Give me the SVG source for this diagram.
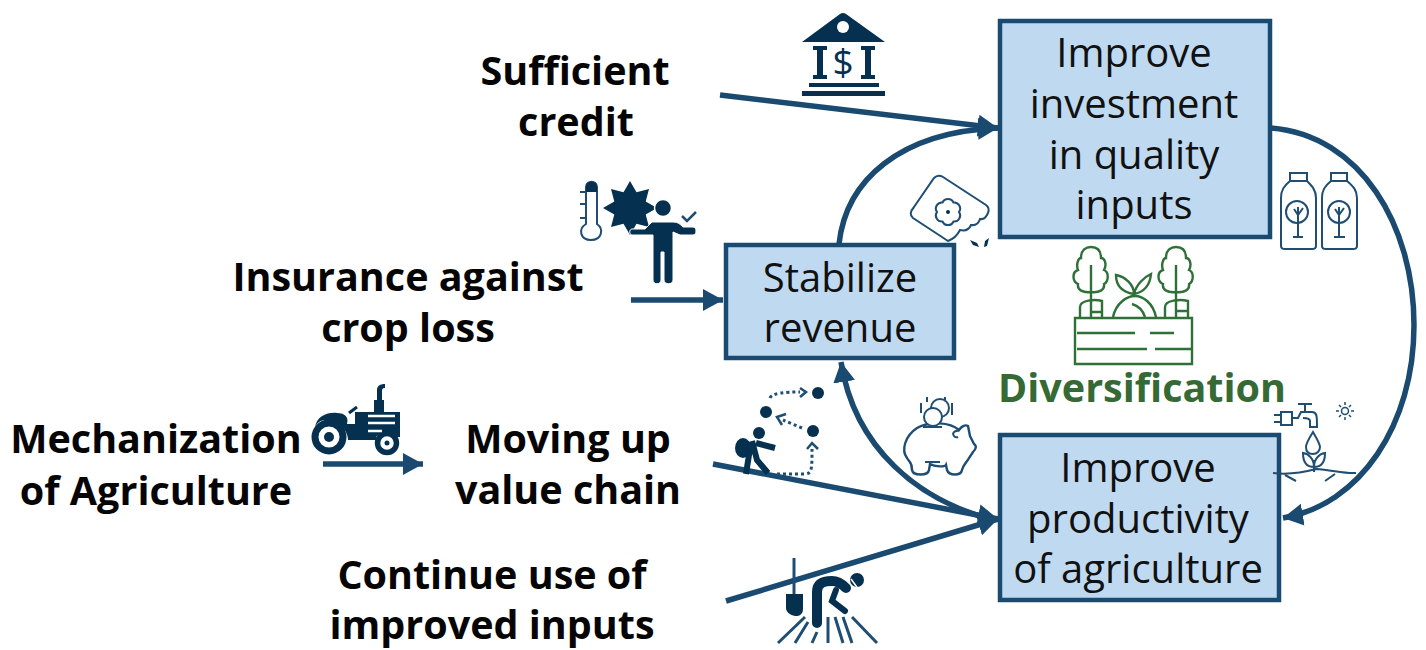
<svg xmlns="http://www.w3.org/2000/svg" width="1426" height="650" viewBox="0 0 1426 650">
<style>
.b{font-family:"Open Sans","Noto Sans",sans-serif;font-weight:700;font-size:39.500px;fill:#050505;text-anchor:middle}
.n{font-family:"Open Sans","Noto Sans",sans-serif;font-size:40px;fill:#111;text-anchor:middle}
.box{fill:#bfdaf0;stroke:#1a4a70;stroke-width:4.500}
.c{fill:none;stroke:#1a4a70;stroke-width:5.500}
.i{fill:#05304f}
.l{fill:none;stroke:#1f4e72;stroke-width:2}
.g{fill:none;stroke:#2f7038;stroke-width:2.400}
.d{fill:none;stroke:#1f4e72;stroke-width:3;stroke-dasharray:3 3}
</style>
<defs>
<marker id="a" markerUnits="userSpaceOnUse" markerWidth="22" markerHeight="24" refX="20" refY="12" orient="auto"><path d="M0 1L20 12L0 23z" fill="#1a4a70"/></marker>
</defs>
<rect width="1426" height="650" fill="#fff"/>
<g id="connectors">
<path class="c" d="M720 95L998 128" marker-end="url(#a)"/>
<path class="c" d="M839 244C846 180 900 132 998 128" marker-end="url(#a)"/>
<path class="c" d="M1271 128C1360 135 1414 225 1414 325C1414 425 1360 505 1283 518" marker-end="url(#a)"/>
<path class="c" d="M631 300H723" marker-end="url(#a)"/>
<path class="c" d="M323 464H423" marker-end="url(#a)"/>
<path class="c" d="M713 464L998 519" marker-end="url(#a)"/>
<path class="c" d="M726 601L998 519" marker-end="url(#a)"/>
<path class="c" d="M990 519C920 500 855 450 841 362" marker-end="url(#a)"/>
</g>
<g id="improve-investment">
<rect class="box" x="1000" y="21" width="270" height="216"/>
<text class="n" x="1134" y="67">Improve</text>
<text class="n" x="1134" y="118">investment</text>
<text class="n" x="1134" y="169">in quality</text>
<text class="n" x="1134" y="219">inputs</text>
</g>
<g id="stabilize-revenue">
<rect class="box" x="726" y="245" width="228" height="113"/>
<text class="n" x="840" y="292">Stabilize</text>
<text class="n" x="840" y="342">revenue</text>
</g>
<g id="improve-productivity">
<rect class="box" x="1000" y="435" width="279" height="165"/>
<text class="n" x="1138" y="482">Improve</text>
<text class="n" x="1138" y="533">productivity</text>
<text class="n" x="1138" y="583">of agriculture</text>
</g>
<g id="sufficient-credit">
<text class="b" x="575" y="85">Sufficient</text>
<text class="b" x="576" y="136">credit</text>
</g>
<g id="insurance">
<text class="b" x="408" y="291">Insurance against</text>
<text class="b" x="408" y="342">crop loss</text>
</g>
<g id="mechanization">
<text class="b" x="156" y="453">Mechanization</text>
<text class="b" x="156" y="505">of Agriculture</text>
</g>
<g id="moving-up">
<text class="b" x="568" y="453">Moving up</text>
<text class="b" x="568" y="504">value chain</text>
</g>
<g id="continue-use">
<text class="b" x="492" y="589">Continue use of</text>
<text class="b" x="492" y="639">improved inputs</text>
</g>
<g id="diversification">
<text x="1142" y="402" text-anchor="middle" style="font-family:'Open Sans','Noto Sans',sans-serif;font-weight:700;font-size:39.500px;fill:#356a35">Diversification</text>
<path class="g" d="M1075 318H1192V364H1075ZM1077 333H1135M1150 333H1174M1077 349H1147M1155 349H1192"/>
<path class="g" d="M1091 265V318M1091 292C1083 293 1077 290 1078 284C1072 281 1072 272 1078 270C1076 265 1078 258 1081 258C1081 250 1086 247 1091 247C1097 247 1101 250 1101 258C1105 258 1107 265 1104 270C1109 272 1109 281 1104 284C1105 290 1099 293 1091 292Z"/>
<path class="g" d="M1176 265V318M1176 292C1168 293 1162 290 1163 284C1157 281 1157 272 1163 270C1161 265 1163 258 1166 258C1166 250 1171 247 1176 247C1182 247 1186 250 1186 258C1190 258 1192 265 1189 270C1194 272 1194 281 1189 284C1190 290 1184 293 1176 292Z"/>
<path class="g" d="M1080 317V307C1080 300 1095 299 1102 301V312H1092M1102 317V312"/>
<path class="g" d="M1165 317V307C1165 300 1180 299 1188 301V317M1176 311H1188"/>
<path class="g" d="M1113 317C1116 303 1127 296 1135 296C1143 296 1153 303 1156 317M1132 304C1139 306 1143 311 1145 317"/>
<path class="g" d="M1134 294C1134 285 1126 277 1116 275C1116 285 1122 292 1134 294C1136 285 1144 277 1151 274C1150 285 1144 292 1134 294Z"/>
</g>
<g id="icon-bank">
<path class="i" d="M802 42L840 14Q843 12 846 14L885 42H802Z"/>
<circle cx="843" cy="27" r="6" fill="#fff"/>
<path class="i" d="M813 46H827V50H823V75H827V79H813V75H817V50H813ZM861 46H875V50H871V75H875V79H861V75H865V50H861Z"/>
<path class="i" d="M809 83H879V87H809ZM802 91H885V96H802Z"/>
<text x="843" y="75" text-anchor="middle" style="font-family:'Open Sans',sans-serif;font-size:37px;fill:#05304f">$</text>
</g>
<g id="icon-insurance">
<path class="l" d="M586 224V187C586 180 597 180 597 187V224C604 229 602 240 591 240C580 240 578 229 586 224ZM580 192H586M580 204H586M580 218H586"/>
<path class="i" d="M586 192V187C586 180 597 180 597 187V192Z"/>
<path class="i" d="M657 208L645.700 201.500L649 189L636.500 192.300L630 181L623.500 192.300L611 189L614.300 201.500L603 208L614.300 214.500L611 227L623.500 223.700L630 235L636.500 223.700L649 227L645.700 214.500Z"/>
<circle class="i" cx="663" cy="208" r="8.500" stroke="#fff" stroke-width="1.500"/>
<path class="i" d="M652 222H673C678 222 680 224 683 227H693C697 227 697 235 693 235H680L673 232V280C673 285 664 285 664 280V252H661V280C661 285 653 285 653 280V235H632C629 235 629 229 632 229H645Z" stroke="#fff" stroke-width="1"/>
<path class="l" d="M682 216L687 221L696 212" style="stroke-width:2.500"/>
</g>
<g id="icon-seed">
<path class="l" d="M914 207L934 178Q938 174 943 177L986 205Q990 208 988 213Q985 220 980 219Q978 226 971 225Q968 232 960 230Q956 238 948 241L913 218Q908 214 914 207Z"/>
<path class="l" d="M942.500 202.500A6 6 0 0 1 953.500 202.500A6 6 0 0 1 959 212A6 6 0 0 1 953.500 221.500A6 6 0 0 1 942.500 221.500A6 6 0 0 1 937 212A6 6 0 0 1 942.500 202.500Z"/>
<circle class="i" cx="948" cy="212" r="2"/>
<path class="i" d="M970 240L977 243L979 247L973 245ZM989 238L987 246L984 247L985 241Z"/>
</g>
<g id="icon-bottles">
<path class="l" d="M1290 173H1307V181H1290ZM1290 181C1284 186 1281 190 1281 198V246C1281 248 1283 249 1285 249H1312C1315 249 1316 248 1316 246V198C1316 190 1312 186 1307 181"/>
<path class="l" d="M1331 173H1347V181H1331ZM1331 181C1325 186 1322 190 1322 198V246C1322 248 1324 249 1326 249H1353C1356 249 1357 248 1357 246V198C1357 190 1353 186 1347 181"/>
<circle class="l" cx="1297" cy="212" r="11"/><path class="l" d="M1298 207V237M1293 237H1303M1294 209L1298 215L1303 208"/>
<circle class="l" cx="1339" cy="212" r="11"/><path class="l" d="M1339 207V237M1334 237H1345M1335 209L1339 215L1344 208"/>
</g>
<g id="icon-water">
<path class="l" d="M1274 415H1281M1274 422H1281M1281 412H1292V425H1281ZM1292 418H1298L1301 412H1312C1317 412 1317 416 1317 427H1310V421C1310 418 1306 418 1303 418M1305 405V412M1298 404H1312"/>
<path class="l" d="M1313 432C1308 440 1306 444 1306 447C1306 452 1309 454 1313 454C1317 454 1320 451 1320 447C1320 444 1317 439 1313 432Z"/>
<path class="l" d="M1314 460V472M1314 467C1306 467 1303 462 1303 453C1309 454 1314 459 1314 467C1322 467 1325 462 1325 453C1319 454 1314 459 1314 467"/>
<path class="l" d="M1273 473C1290 475 1305 472 1316 469C1332 470 1345 474 1356 473M1285 475L1296 481M1335 474L1325 481"/>
<circle class="l" cx="1345" cy="411" r="3.500" style="stroke-width:1.500"/><path class="l" d="M1336 411H1339M1351 411H1354M1345 402V405M1345 417V420M1339 405L1341 407M1351 405L1349 407M1339 417L1341 415M1351 417L1349 415" style="stroke-width:1.500"/>
</g>
<g id="icon-tractor">
<path class="i" d="M374 414V400H377V390C377 386 380 384 385 384V388C382 388 382 390 382 392V400H384V414Z"/>
<path class="i" d="M315 428C316 416 328 412 337 413C345 413 349 417 347 424H355V412H400V437H397C394 432 380 432 376 437V440H348C348 428 335 420 325 420C320 420 316 424 315 428Z"/>
<path d="M349 413L357 407" fill="none" stroke="#05304f" stroke-width="3"/>
<circle cx="329" cy="437" r="14" fill="#fff" stroke="#05304f" stroke-width="7"/><circle class="i" cx="329" cy="437" r="5"/>
<circle cx="387" cy="443" r="9.500" fill="#fff" stroke="#05304f" stroke-width="5.500"/><circle class="i" cx="387" cy="443" r="2.500"/>
<path d="M368 416H395M368 423H395M368 431H382" stroke="#fff" stroke-width="2.500"/>
</g>
<g id="icon-value-chain">
<circle class="i" cx="818" cy="393" r="6"/><circle class="i" cx="766" cy="412" r="6"/><circle class="i" cx="813" cy="431" r="6"/>
<circle class="i" cx="759" cy="433" r="6"/>
<ellipse class="i" cx="743" cy="448" rx="8" ry="10"/>
<path d="M751 442L746 474M752 441L757 460L768 473M756 443L775 448" fill="none" stroke="#05304f" stroke-width="6"/>
<path class="d" d="M770 398C772 393 785 392 800 392"/><path class="l" d="M800 388L806 392L800 397" style="stroke-width:2.500"/>
<path class="d" d="M802 428L783 420"/><path class="l" d="M786 414L777 417L782 425" style="stroke-width:2.500"/>
<path class="d" d="M777 474H804C812 474 812 470 812 449"/><path class="l" d="M807 449L812 443L818 449" style="stroke-width:2.500"/>
</g>
<g id="icon-piggy">
<path class="l" d="M917 428C905 436 901 450 907 458C910 463 912 462 912 470C913 476 928 476 929 470L930 464C935 467 945 467 946 465L947 470C949 476 961 476 962 470C963 465 967 462 969 458L973 452C976 449 977 446 974 444L970 436L968 426C965 424 961 427 959 430C950 422 930 421 917 428Z" style="stroke-width:2.400"/>
<circle cx="940" cy="408" r="9" fill="#fff" stroke="#1f4e72" stroke-width="2"/><circle cx="933" cy="417" r="9" fill="#fff" stroke="#1f4e72" stroke-width="2"/>
<path class="l" d="M921 403V413M952 403V415M927 397V402M945 397V400M925 462H940M923 427H942M953 433C955 431 957 430 959 431M953 433C953 436 955 438 958 437"/>
</g>
<g id="icon-farmer">
<path class="l" d="M794 558V597" style="stroke-width:3"/>
<path class="i" d="M786 594H803V609C803 616 797 616 795 616C790 615 786 612 786 608Z"/>
<path d="M817 623V592C817 582 825 581 832 581C838 581 842 584 846 588" fill="none" stroke="#05304f" stroke-width="10" stroke-linecap="round"/>
<path d="M836 590L832 601L845 611" fill="none" stroke="#05304f" stroke-width="6" stroke-linecap="round"/>
<circle class="i" cx="857" cy="580" r="7"/><path d="M851 579L859 590" stroke="#fff" stroke-width="1.500"/>
<path d="M778 643L805 617M795 643L808 622M812 643L817 632M828 643V617M843 643L835 617M852 643L843 617M877 643L852 617" fill="none" stroke="#1f4e72" stroke-width="3"/>
</g>
</svg>
